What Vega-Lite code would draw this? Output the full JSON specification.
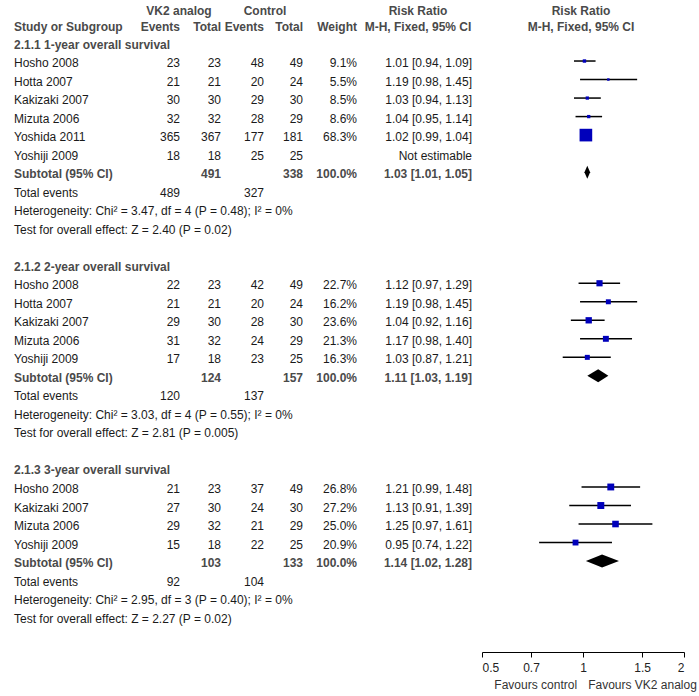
{
  "$schema": "https://vega.github.io/schema/vega-lite/v6.json",
  "width": 699,
  "height": 652,
  "autosize": "none",
  "padding": {"left": 0, "top": 0, "right": 0, "bottom": 44},
  "background": "white",
  "config": {"view": {"stroke": null}, "text": {"font": "Liberation Sans", "fontSize": 12}},
  "data": {"values": [
    {"row": 0, "label": "2.1.1 1-year overall survival", "kind": "section"},
    {"row": 1, "label": "Hosho 2008", "e1": 23, "n1": 23, "e2": 48, "n2": 49, "w": 0.091, "rr": "1.01 [0.94, 1.09]", "est": 1.01, "lo": 0.94, "hi": 1.09, "kind": "study"},
    {"row": 2, "label": "Hotta 2007", "e1": 21, "n1": 21, "e2": 20, "n2": 24, "w": 0.055, "rr": "1.19 [0.98, 1.45]", "est": 1.19, "lo": 0.98, "hi": 1.45, "kind": "study"},
    {"row": 3, "label": "Kakizaki 2007", "e1": 30, "n1": 30, "e2": 29, "n2": 30, "w": 0.085, "rr": "1.03 [0.94, 1.13]", "est": 1.03, "lo": 0.94, "hi": 1.13, "kind": "study"},
    {"row": 4, "label": "Mizuta 2006", "e1": 32, "n1": 32, "e2": 28, "n2": 29, "w": 0.086, "rr": "1.04 [0.95, 1.14]", "est": 1.04, "lo": 0.95, "hi": 1.14, "kind": "study"},
    {"row": 5, "label": "Yoshida 2011", "e1": 365, "n1": 367, "e2": 177, "n2": 181, "w": 0.683, "rr": "1.02 [0.99, 1.04]", "est": 1.02, "lo": 0.99, "hi": 1.04, "kind": "study"},
    {"row": 6, "label": "Yoshiji 2009", "e1": 18, "n1": 18, "e2": 25, "n2": 25, "rr": "Not estimable", "kind": "study"},
    {"row": 7, "label": "Subtotal (95% CI)", "n1": 491, "n2": 338, "w": 1.0, "rr": "1.03 [1.01, 1.05]", "est": 1.03, "lo": 1.01, "hi": 1.05, "kind": "subtotal"},
    {"row": 8, "label": "Total events", "e1": 489, "e2": 327, "kind": "note"},
    {"row": 9, "label": "Heterogeneity: Chi² = 3.47, df = 4 (P = 0.48); I² = 0%", "kind": "note"},
    {"row": 10, "label": "Test for overall effect: Z = 2.40 (P = 0.02)", "kind": "note"},
    {"row": 12, "label": "2.1.2 2-year overall survival", "kind": "section"},
    {"row": 13, "label": "Hosho 2008", "e1": 22, "n1": 23, "e2": 42, "n2": 49, "w": 0.227, "rr": "1.12 [0.97, 1.29]", "est": 1.12, "lo": 0.97, "hi": 1.29, "kind": "study"},
    {"row": 14, "label": "Hotta 2007", "e1": 21, "n1": 21, "e2": 20, "n2": 24, "w": 0.162, "rr": "1.19 [0.98, 1.45]", "est": 1.19, "lo": 0.98, "hi": 1.45, "kind": "study"},
    {"row": 15, "label": "Kakizaki 2007", "e1": 29, "n1": 30, "e2": 28, "n2": 30, "w": 0.236, "rr": "1.04 [0.92, 1.16]", "est": 1.04, "lo": 0.92, "hi": 1.16, "kind": "study"},
    {"row": 16, "label": "Mizuta 2006", "e1": 31, "n1": 32, "e2": 24, "n2": 29, "w": 0.213, "rr": "1.17 [0.98, 1.40]", "est": 1.17, "lo": 0.98, "hi": 1.40, "kind": "study"},
    {"row": 17, "label": "Yoshiji 2009", "e1": 17, "n1": 18, "e2": 23, "n2": 25, "w": 0.163, "rr": "1.03 [0.87, 1.21]", "est": 1.03, "lo": 0.87, "hi": 1.21, "kind": "study"},
    {"row": 18, "label": "Subtotal (95% CI)", "n1": 124, "n2": 157, "w": 1.0, "rr": "1.11 [1.03, 1.19]", "est": 1.11, "lo": 1.03, "hi": 1.19, "kind": "subtotal"},
    {"row": 19, "label": "Total events", "e1": 120, "e2": 137, "kind": "note"},
    {"row": 20, "label": "Heterogeneity: Chi² = 3.03, df = 4 (P = 0.55); I² = 0%", "kind": "note"},
    {"row": 21, "label": "Test for overall effect: Z = 2.81 (P = 0.005)", "kind": "note"},
    {"row": 23, "label": "2.1.3 3-year overall survival", "kind": "section"},
    {"row": 24, "label": "Hosho 2008", "e1": 21, "n1": 23, "e2": 37, "n2": 49, "w": 0.268, "rr": "1.21 [0.99, 1.48]", "est": 1.21, "lo": 0.99, "hi": 1.48, "kind": "study"},
    {"row": 25, "label": "Kakizaki 2007", "e1": 27, "n1": 30, "e2": 24, "n2": 30, "w": 0.272, "rr": "1.13 [0.91, 1.39]", "est": 1.13, "lo": 0.91, "hi": 1.39, "kind": "study"},
    {"row": 26, "label": "Mizuta 2006", "e1": 29, "n1": 32, "e2": 21, "n2": 29, "w": 0.250, "rr": "1.25 [0.97, 1.61]", "est": 1.25, "lo": 0.97, "hi": 1.61, "kind": "study"},
    {"row": 27, "label": "Yoshiji 2009", "e1": 15, "n1": 18, "e2": 22, "n2": 25, "w": 0.209, "rr": "0.95 [0.74, 1.22]", "est": 0.95, "lo": 0.74, "hi": 1.22, "kind": "study"},
    {"row": 28, "label": "Subtotal (95% CI)", "n1": 103, "n2": 133, "w": 1.0, "rr": "1.14 [1.02, 1.28]", "est": 1.14, "lo": 1.02, "hi": 1.28, "kind": "subtotal"},
    {"row": 29, "label": "Total events", "e1": 92, "e2": 104, "kind": "note"},
    {"row": 30, "label": "Heterogeneity: Chi² = 2.95, df = 3 (P = 0.40); I² = 0%", "kind": "note"},
    {"row": 31, "label": "Test for overall effect: Z = 2.27 (P = 0.02)", "kind": "note"}
  ]},
  "encoding": {
    "y": {"field": "row", "type": "quantitative", "scale": {"domain": [-0.54, 32.91], "range": [32.5, 652], "zero": false, "nice": false}, "axis": null}
  },
  "layer": [
    {
      "data": {"values": [{}]},
      "mark": {"type": "rule", "color": "#333333", "strokeWidth": 1.2},
      "encoding": {"x": {"value": 3}, "x2": {"value": 699}, "y": {"datum": -0.54}}
    },
    {
      "data": {"values": [{}]},
      "mark": {"type": "rule", "color": "#444444", "strokeWidth": 1},
      "encoding": {
        "x": {"datum": 1, "type": "quantitative", "scale": {"type": "log", "domain": [0.5, 2], "range": [482, 684], "nice": false},
              "axis": {"values": [0.5, 0.7, 1, 1.5, 2], "format": "~g", "title": null, "grid": false, "domainColor": "#000000", "tickColor": "#000000", "tickSize": 5, "labelFont": "Liberation Sans", "labelFontSize": 12, "labelColor": "#222222", "labelPadding": 5, "labelFlush": true}},
        "y": {"datum": -0.54}, "y2": {"datum": 32.91}
      }
    },
    {
      "transform": [{"filter": "datum.kind === 'study' && isValid(datum.est)"}],
      "mark": {"type": "rule", "color": "#000000", "strokeWidth": 1.5},
      "encoding": {"x": {"field": "lo", "type": "quantitative"}, "x2": {"field": "hi"}}
    },
    {
      "transform": [{"filter": "datum.kind === 'study' && isValid(datum.est)"}],
      "mark": {"type": "point", "shape": "square", "filled": true, "color": "#0000bb", "opacity": 1},
      "encoding": {
        "x": {"field": "est", "type": "quantitative"},
        "size": {"field": "w", "type": "quantitative", "scale": {"type": "pow", "exponent": 1.3, "domain": [0, 0.683], "range": [0, 160]}, "legend": null}
      }
    },
    {
      "transform": [
        {"filter": "datum.kind === 'subtotal'"},
        {"fold": ["lo", "est", "hi"], "as": ["part", "val"]}
      ],
      "mark": {"type": "area", "color": "#000000", "opacity": 1},
      "encoding": {
        "x": {"field": "val", "type": "quantitative"},
        "y": {"value": {"expr": "scale('y', datum.row) - (datum.part === 'est' ? 6.5 : 0)"}},
        "y2": {"value": {"expr": "scale('y', datum.row) + (datum.part === 'est' ? 6.5 : 0)"}},
        "detail": {"field": "row", "type": "nominal"}
      }
    },
    {
      "mark": {"type": "text", "align": "left", "baseline": "middle", "x": 14, "dy": 2,
               "fontWeight": {"expr": "datum.kind === 'section' || datum.kind === 'subtotal' ? 'bold' : 'normal'"},
               "fill": {"expr": "datum.kind === 'section' || datum.kind === 'subtotal' ? '#4a4a4a' : '#1a1a1a'"}},
      "encoding": {"text": {"field": "label", "type": "nominal"}}
    },
    {
      "transform": [{"filter": "isValid(datum.e1)"}],
      "mark": {"type": "text", "align": "right", "baseline": "middle", "x": 180, "dy": 2, "fill": "#1a1a1a"},
      "encoding": {"text": {"field": "e1", "type": "nominal"}}
    },
    {
      "transform": [{"filter": "isValid(datum.n1)"}],
      "mark": {"type": "text", "align": "right", "baseline": "middle", "x": 221, "dy": 2,
               "fontWeight": {"expr": "datum.kind === 'subtotal' ? 'bold' : 'normal'"},
               "fill": {"expr": "datum.kind === 'subtotal' ? '#4a4a4a' : '#1a1a1a'"}},
      "encoding": {"text": {"field": "n1", "type": "nominal"}}
    },
    {
      "transform": [{"filter": "isValid(datum.e2)"}],
      "mark": {"type": "text", "align": "right", "baseline": "middle", "x": 264, "dy": 2, "fill": "#1a1a1a"},
      "encoding": {"text": {"field": "e2", "type": "nominal"}}
    },
    {
      "transform": [{"filter": "isValid(datum.n2)"}],
      "mark": {"type": "text", "align": "right", "baseline": "middle", "x": 303, "dy": 2,
               "fontWeight": {"expr": "datum.kind === 'subtotal' ? 'bold' : 'normal'"},
               "fill": {"expr": "datum.kind === 'subtotal' ? '#4a4a4a' : '#1a1a1a'"}},
      "encoding": {"text": {"field": "n2", "type": "nominal"}}
    },
    {
      "transform": [{"filter": "isValid(datum.w)"}],
      "mark": {"type": "text", "align": "right", "baseline": "middle", "x": 357, "dy": 2,
               "fontWeight": {"expr": "datum.kind === 'subtotal' ? 'bold' : 'normal'"},
               "fill": {"expr": "datum.kind === 'subtotal' ? '#4a4a4a' : '#1a1a1a'"}},
      "encoding": {"text": {"field": "w", "type": "quantitative", "format": ".1%"}}
    },
    {
      "transform": [{"filter": "isValid(datum.rr)"}],
      "mark": {"type": "text", "align": "right", "baseline": "middle", "x": 472, "dy": 2,
               "fontWeight": {"expr": "datum.kind === 'subtotal' ? 'bold' : 'normal'"},
               "fill": {"expr": "datum.kind === 'subtotal' ? '#4a4a4a' : '#1a1a1a'"}},
      "encoding": {"text": {"field": "rr", "type": "nominal"}}
    },
    {
      "data": {"values": [
        {"t": "VK2 analog", "r": -1.68, "c": "vk"},
        {"t": "Control", "r": -1.68, "c": "ct"},
        {"t": "Risk Ratio", "r": -1.68, "c": "rr"},
        {"t": "Study or Subgroup", "r": -0.84, "c": "study"},
        {"t": "Events", "r": -0.84, "c": "e1"},
        {"t": "Total", "r": -0.84, "c": "n1"},
        {"t": "Events", "r": -0.84, "c": "e2"},
        {"t": "Total", "r": -0.84, "c": "n2"},
        {"t": "Weight", "r": -0.84, "c": "w"},
        {"t": "M-H, Fixed, 95% CI", "r": -0.84, "c": "rr"}
      ]},
      "mark": {"type": "text", "baseline": "middle", "fontWeight": "bold", "fill": "#4a4a4a",
               "align": {"expr": "datum.c === 'study' ? 'left' : (datum.c === 'vk' || datum.c === 'ct' || datum.c === 'rr') ? 'center' : 'right'"},
               "x": {"expr": "datum.c === 'study' ? 14 : datum.c === 'vk' ? 179 : datum.c === 'ct' ? 265 : datum.c === 'rr' ? 418 : datum.c === 'e1' ? 180 : datum.c === 'n1' ? 221 : datum.c === 'e2' ? 264 : datum.c === 'n2' ? 303 : 357"}},
      "encoding": {"y": {"field": "r", "type": "quantitative"}, "text": {"field": "t", "type": "nominal"}}
    },
    {
      "data": {"values": [
        {"t": "Risk Ratio", "r": -1.68},
        {"t": "M-H, Fixed, 95% CI", "r": -0.84}
      ]},
      "mark": {"type": "text", "baseline": "middle", "align": "center", "fontWeight": "bold", "fill": "#4a4a4a", "dx": -2},
      "encoding": {"x": {"datum": 1, "type": "quantitative"}, "y": {"field": "r", "type": "quantitative"}, "text": {"field": "t", "type": "nominal"}}
    },
    {
      "data": {"values": [
        {"t": "Favours control", "v": 0.96, "side": "left"},
        {"t": "Favours VK2 analog", "v": 1.036, "side": "right"}
      ]},
      "mark": {"type": "text", "baseline": "middle", "fill": "#333333",
               "align": {"expr": "datum.side === 'left' ? 'right' : 'left'"}},
      "encoding": {"x": {"field": "v", "type": "quantitative"}, "y": {"value": 685}, "text": {"field": "t", "type": "nominal"}}
    }
  ]
}
